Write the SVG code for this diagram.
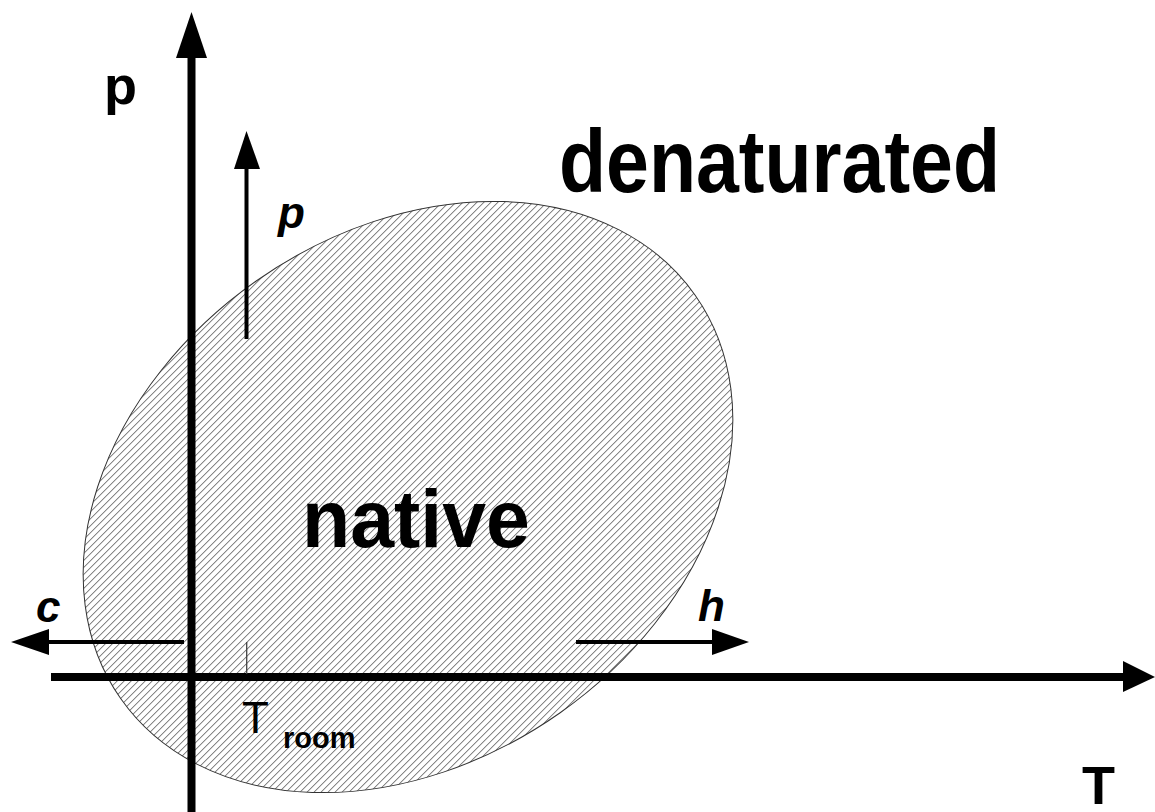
<svg xmlns="http://www.w3.org/2000/svg" width="1155" height="812" viewBox="0 0 1155 812">
<style>
.b{font-family:"Liberation Sans",Arial,sans-serif;font-weight:bold;fill:#000}
.r{font-family:"Liberation Sans",Arial,sans-serif;fill:#000}
.it{font-family:"Liberation Sans",Arial,sans-serif;font-weight:bold;font-style:italic;fill:#000}
.ax{stroke:#000;stroke-width:8;fill:none}
.ar{stroke:#000;stroke-width:4;fill:none}
.hd{fill:#000;stroke:none}
</style>
<defs>
<pattern id="hatch" patternUnits="userSpaceOnUse" x="0" y="0" width="7" height="7" patternTransform="rotate(35.1 408 497.5)">
<path d="M0,7 L7,0 M-1,1 L1,-1 M6,8 L8,6" stroke="#3a3a3a" stroke-width="0.9" fill="none"/>
</pattern>
</defs>
<rect width="1155" height="812" fill="#fff"/>
<g id="native-region">
<ellipse cx="408" cy="497" rx="351" ry="264" transform="rotate(-35.1 408 497)" fill="url(#hatch)" stroke="#333" stroke-width="1"/>
</g>
<g id="connectors">
<line class="ax" x1="191.5" y1="812" x2="191.5" y2="56"/>
<polygon class="hd" points="191.5,12 176,58 207,58"/>
<line class="ax" x1="51" y1="677" x2="1125" y2="677"/>
<polygon class="hd" points="1155,677 1123,661 1123,692"/>
<line class="ar" x1="246.5" y1="339" x2="246.5" y2="167"/>
<polygon class="hd" points="246.5,131 234,169 260,169"/>
<line class="ar" x1="184" y1="642" x2="47" y2="642"/>
<polygon class="hd" points="11,642 49,629 49,655"/>
<line class="ar" x1="576" y1="642" x2="714" y2="642"/>
<polygon class="hd" points="749,642 712,629 712,655"/>
<line x1="246.7" y1="642" x2="246.7" y2="674" stroke="#444" stroke-width="1.3"/>
</g>
<g id="label-p-axis"><text class="b" x="104" y="104" font-size="54">p</text></g>
<g id="label-T-axis"><text class="b" x="1082" y="804" font-size="54">T</text></g>
<g id="label-denaturated"><text class="b" x="559" y="192" font-size="89" textLength="441" lengthAdjust="spacingAndGlyphs">denaturated</text></g>
<g id="label-native"><text class="b" x="302" y="547" font-size="81" textLength="228" lengthAdjust="spacingAndGlyphs">native</text></g>
<g id="label-p"><text class="it" x="278" y="228" font-size="44">p</text></g>
<g id="label-c"><text class="it" x="36" y="622" font-size="44">c</text></g>
<g id="label-h"><text class="it" x="698" y="621" font-size="44">h</text></g>
<g id="label-Troom"><text class="r" x="242" y="733" font-size="44">T</text><text class="b" x="283" y="748" font-size="29">room</text></g>
</svg>
